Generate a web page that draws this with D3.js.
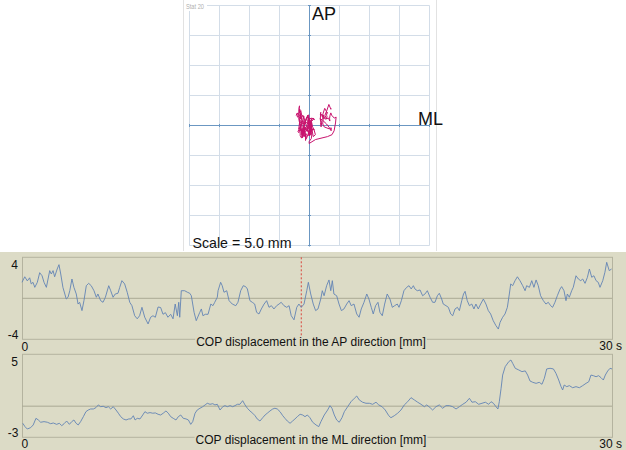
<!DOCTYPE html>
<html><head><meta charset="utf-8">
<script src="https://cdn.jsdelivr.net/npm/d3@7"></script>
<style>
html,body{margin:0;padding:0;background:#fff;}
svg{display:block;font-family:"Liberation Sans",Arial,sans-serif;}
</style></head>
<body>
<svg id="chart" width="626" height="450"></svg>
<script>
// ---- data (time in s, displacement in mm) ----
const apSeries = [[0,1.56],[0.14,2.1],[0.27,1.7],[0.39,2.0],[0.47,1.4],[0.56,1.56],[0.65,1.07],[0.78,1.56],[0.9,2.5],[1.02,2.2],[1.12,1.56],[1.24,1.07],[1.41,2.7],[1.49,2.37],[1.58,2.7],[1.66,2.1],[1.79,2.86],[1.88,3.28],[1.97,2.37],[2.08,1.07],[2.25,-0.07],[2.34,0.1],[2.43,0.74],[2.54,1.88],[2.64,1.07],[2.76,0.42],[2.85,-0.56],[2.93,-0.39],[3.05,-1.2],[3.15,-0.23],[3.27,1.23],[3.39,1.46],[3.52,1.23],[3.66,0.74],[3.78,0.1],[3.86,0.42],[4.0,-0.23],[4.12,-0.39],[4.24,0.1],[4.41,1.23],[4.51,0.74],[4.63,0.1],[4.74,0.42],[4.88,0.49],[4.97,1.07],[5.08,1.72],[5.22,1.4],[5.35,0.59],[5.48,-0.39],[5.59,-0.72],[5.73,-1.7],[5.86,-2.0],[5.98,-1.7],[6.1,-0.88],[6.24,-1.85],[6.41,-2.5],[6.54,-1.85],[6.66,-1.7],[6.78,-1.85],[6.92,-0.85],[7.05,-0.9],[7.17,-1.56],[7.29,-1.4],[7.42,-1.85],[7.56,-1.56],[7.68,-2.0],[7.79,-0.56],[7.9,-1.7],[7.97,-0.39],[8.02,-1.85],[8.1,0.74],[8.27,0.74],[8.41,0.59],[8.53,0.49],[8.61,0.25],[8.75,-1.37],[8.86,-2.18],[9.04,-1.37],[9.12,-1.04],[9.2,-1.7],[9.32,-1.56],[9.46,-1.56],[9.6,-0.56],[9.71,-0.72],[9.8,-0.39],[9.93,0.1],[9.97,0.74],[10.1,1.56],[10.18,1.23],[10.27,0.59],[10.41,0.74],[10.53,-0.23],[10.69,-0.56],[10.87,-0.72],[10.98,-0.39],[11.12,0.74],[11.25,1.23],[11.37,1.14],[11.46,0.91],[11.59,-0.23],[11.71,-0.39],[11.83,-0.56],[11.93,-1.37],[12.05,-1.53],[12.17,-1.04],[12.31,-0.56],[12.44,-0.23],[12.56,-0.88],[12.68,-0.72],[12.81,-1.04],[12.95,-0.72],[13.07,-0.56],[13.18,-0.39],[13.32,-0.72],[13.46,-0.88],[13.58,-0.72],[13.69,-1.7],[13.83,-2.1],[13.97,-0.88],[14.08,-0.56],[14.2,-0.88],[14.34,-0.56],[14.48,0.74],[14.56,1.56],[14.68,0.42],[14.81,-0.56],[14.93,-1.2],[15.05,-1.04],[15.19,-0.07],[15.27,0.74],[15.36,0.25],[15.49,1.23],[15.61,1.79],[15.7,0.74],[15.78,1.72],[15.86,0.42],[16.0,0.25],[16.12,-0.56],[16.24,-1.2],[16.37,-1.04],[16.51,-0.56],[16.63,-0.23],[16.74,-0.72],[16.88,-0.56],[17.02,-1.53],[17.14,-1.85],[17.25,-1.04],[17.39,-0.39],[17.53,0.42],[17.64,-0.07],[17.76,-0.88],[17.86,-1.53],[17.98,-0.72],[18.1,-0.39],[18.2,-1.37],[18.32,-1.7],[18.44,-0.56],[18.57,0.42],[18.71,-0.07],[18.83,-0.88],[18.95,-0.72],[19.08,-0.56],[19.17,-0.88],[19.29,-0.23],[19.42,0.74],[19.56,1.07],[19.68,1.23],[19.79,0.91],[19.9,1.23],[19.98,0.91],[20.1,0.74],[20.24,0.81],[20.37,0.25],[20.49,0.42],[20.61,0.74],[20.75,0.1],[20.88,-0.39],[21.0,-0.39],[21.12,0.25],[21.22,0.49],[21.34,-0.07],[21.42,-0.56],[21.56,-0.72],[21.68,-0.88],[21.8,-1.53],[21.9,-1.7],[22.02,-1.04],[22.14,-0.88],[22.24,-1.2],[22.36,-0.23],[22.45,0.42],[22.53,0.68],[22.64,-0.23],[22.75,-0.72],[22.87,-0.56],[22.98,-1.04],[23.08,-0.56],[23.2,-1.04],[23.32,-0.56],[23.46,-0.07],[23.59,-0.56],[23.71,-1.2],[23.83,-1.53],[23.96,-2.18],[24.1,-2.67],[24.22,-3.0],[24.31,-2.34],[24.44,-1.85],[24.56,-1.53],[24.68,-0.88],[24.78,0.42],[24.85,1.4],[24.95,1.23],[25.07,1.72],[25.19,2.1],[25.32,1.72],[25.46,1.23],[25.58,0.74],[25.66,1.23],[25.8,1.07],[25.92,1.72],[26.03,1.07],[26.14,1.79],[26.25,1.23],[26.37,0.25],[26.51,-0.23],[26.64,-0.56],[26.76,-0.39],[26.88,-0.72],[26.98,-0.88],[27.1,-0.39],[27.22,0.25],[27.36,0.91],[27.44,1.14],[27.56,0.74],[27.66,-0.23],[27.73,0.42],[27.83,0.1],[27.95,0.74],[28.03,1.07],[28.17,2.2],[28.29,1.88],[28.41,1.72],[28.51,1.88],[28.63,1.46],[28.75,2.05],[28.85,2.86],[28.97,2.05],[29.08,2.2],[29.19,1.72],[29.3,1.56],[29.39,1.07],[29.53,1.72],[29.64,2.54],[29.73,3.51],[29.86,2.7],[29.98,2.86]];

const mlSeries = [[0.04,-1.65],[0.15,-1.97],[0.27,-2.2],[0.44,-2.07],[0.57,-1.81],[0.71,-1.17],[0.83,-1.33],[0.95,-1.55],[1.12,-1.49],[1.29,-1.55],[1.46,-1.69],[1.59,-1.62],[1.76,-1.75],[1.9,-1.65],[2.02,-1.88],[2.14,-1.69],[2.27,-1.43],[2.41,-1.75],[2.53,-1.49],[2.64,-1.33],[2.75,-1.65],[2.86,-1.81],[2.98,-1.49],[3.12,-1.01],[3.25,-0.53],[3.37,-0.37],[3.49,-0.27],[3.63,-0.27],[3.76,-0.14],[3.88,0.12],[4.0,-0.05],[4.13,-0.01],[4.27,-0.14],[4.39,-0.05],[4.51,-0.27],[4.64,-0.05],[4.78,-0.37],[4.9,-0.68],[5.02,-1.01],[5.15,-1.23],[5.29,-1.33],[5.43,-1.23],[5.54,-1.23],[5.66,-0.92],[5.75,-1.33],[5.86,-1.17],[6.0,-1.23],[6.14,-0.85],[6.25,-0.53],[6.37,-0.68],[6.51,-0.62],[6.65,-0.68],[6.78,-0.65],[6.92,-0.78],[7.05,-0.85],[7.18,-0.68],[7.32,-0.46],[7.44,-0.68],[7.56,-1.01],[7.69,-1.17],[7.83,-1.33],[7.95,-1.01],[8.07,-0.85],[8.2,-1.17],[8.34,-1.23],[8.46,-1.33],[8.58,-1.75],[8.68,-1.49],[8.8,-0.68],[8.91,-0.37],[9.05,-0.2],[9.19,-0.05],[9.31,0.12],[9.42,0.28],[9.56,0.18],[9.7,0.24],[9.81,0.12],[9.93,0.18],[10.07,-0.37],[10.21,-0.05],[10.32,0.05],[10.44,-0.05],[10.58,0.05],[10.71,-0.05],[10.83,0.05],[10.95,0.18],[11.08,0.18],[11.22,0.53],[11.34,0.12],[11.46,-0.2],[11.59,-0.46],[11.73,-0.68],[11.85,-0.92],[11.96,-1.23],[12.1,-1.43],[12.24,-1.11],[12.36,-0.85],[12.47,-0.68],[12.61,-0.46],[12.75,-0.27],[12.86,-0.2],[12.98,-0.27],[13.12,-0.53],[13.26,-0.92],[13.37,-1.17],[13.49,-1.43],[13.63,-1.65],[13.76,-1.43],[13.88,-1.23],[14.0,-1.01],[14.14,-0.78],[14.27,-0.85],[14.39,-1.01],[14.51,-0.85],[14.64,-1.11],[14.78,-1.55],[14.95,-1.81],[15.09,-1.97],[15.2,-1.49],[15.37,-0.85],[15.54,-0.37],[15.66,0.05],[15.76,-0.2],[15.88,-0.85],[16.0,-1.33],[16.13,-1.55],[16.27,-1.11],[16.39,-0.53],[16.56,-0.05],[16.73,0.43],[16.9,0.76],[17.02,0.98],[17.15,0.6],[17.32,0.38],[17.49,0.28],[17.66,0.28],[17.83,0.18],[18.0,0.38],[18.14,0.12],[18.31,-0.05],[18.47,-0.37],[18.65,-0.92],[18.76,-1.11],[18.93,-0.92],[19.1,-0.68],[19.27,-0.37],[19.44,0.12],[19.61,0.43],[19.78,0.82],[19.95,0.6],[20.12,0.38],[20.29,0.18],[20.46,-0.05],[20.58,0.12],[20.75,-0.14],[20.88,-0.37],[21.05,-0.05],[21.22,0.12],[21.39,-0.2],[21.56,0.05],[21.73,0.05],[21.9,-0.05],[22.07,-0.27],[22.24,-0.05],[22.41,0.18],[22.58,0.38],[22.75,0.76],[22.88,0.38],[23.05,0.43],[23.22,0.18],[23.39,0.28],[23.56,0.38],[23.73,0.18],[23.85,0.43],[23.97,0.28],[24.1,-0.05],[24.2,-0.27],[24.27,0.43],[24.36,1.72],[24.44,3.0],[24.57,3.81],[24.75,4.29],[24.86,4.45],[24.95,4.13],[25.08,3.65],[25.26,3.49],[25.42,3.33],[25.59,3.4],[25.71,3.0],[25.83,2.43],[25.97,2.3],[26.14,2.2],[26.3,2.3],[26.44,2.11],[26.56,2.69],[26.68,3.59],[26.85,3.65],[27.02,3.59],[27.15,3.17],[27.29,2.52],[27.41,1.88],[27.49,1.56],[27.57,2.04],[27.7,1.88],[27.83,1.98],[28.0,1.78],[28.17,1.88],[28.34,1.78],[28.51,1.98],[28.68,2.2],[28.82,2.36],[28.93,3.0],[29.05,2.94],[29.19,2.84],[29.32,2.94],[29.44,2.75],[29.56,2.52],[29.66,3.0],[29.78,3.39],[29.9,3.65],[30.0,3.59]];

const timeDomain = [0, 30];
const timeTickLabels = ["0", "30 s"];
const apDomain = [-4, 4];
const mlDomain = [-3, 5];
const apTickLabels = ["4", "-4"];
const mlTickLabels = ["5", "-3"];
const panelTitles = ["COP displacement in the AP direction [mm]", "COP displacement in the ML direction [mm]"];
const cursorTime = 14.2;
const stabTitle = "Stat 20";
const stabAxisLabels = ["AP", "ML"];
const stabScaleMm = 5.0;
const stabGridCells = 8;

// ---- drawing ----
const svg = d3.select("#chart");
const FONT = "'Liberation Sans', Arial, sans-serif";
const AXIS_BLUE = "#6b97c2";

// ===== Statokinesiogram (top) =====
const half = stabScaleMm * stabGridCells / 2; // 20 mm
const sx = d3.scaleLinear().domain([-half, half]).range([189.5, 429.5]);
const sy = d3.scaleLinear().domain([-half, half]).range([245.5, 5.5]);
const stab = svg.append("g");

stab.append("line").attr("x1", 183.5).attr("x2", 183.5).attr("y1", 0).attr("y2", 251)
  .attr("stroke", "#e2e2e2");
stab.append("line").attr("x1", 436.5).attr("x2", 436.5).attr("y1", 0).attr("y2", 251)
  .attr("stroke", "#e2e2e2");

const gridVals = d3.range(-half, half + 0.001, stabScaleMm);
stab.selectAll("line.gv").data(gridVals).join("line").attr("class", "gv")
  .attr("x1", d => sx(d)).attr("x2", d => sx(d))
  .attr("y1", sy(half)).attr("y2", sy(-half))
  .attr("stroke", "#d3dde8").attr("stroke-width", 1);
stab.selectAll("line.gh").data(gridVals).join("line").attr("class", "gh")
  .attr("y1", d => sy(d)).attr("y2", d => sy(d))
  .attr("x1", sx(-half)).attr("x2", sx(half))
  .attr("stroke", "#d3dde8").attr("stroke-width", 1);

// axes
stab.append("line").attr("x1", sx(0)).attr("x2", sx(0)).attr("y1", sy(half)).attr("y2", sy(-half) + 1)
  .attr("stroke", AXIS_BLUE);
stab.append("line").attr("y1", sy(0)).attr("y2", sy(0)).attr("x1", sx(-half)).attr("x2", sx(half))
  .attr("stroke", AXIS_BLUE);
stab.selectAll("line.tx").data(gridVals).join("line").attr("class", "tx")
  .attr("x1", d => sx(d)).attr("x2", d => sx(d)).attr("y1", sy(0) - 1.5).attr("y2", sy(0) + 1.5)
  .attr("stroke", AXIS_BLUE);
stab.selectAll("line.ty").data(gridVals).join("line").attr("class", "ty")
  .attr("y1", d => sy(d)).attr("y2", d => sy(d)).attr("x1", sx(0) - 1.5).attr("x2", sx(0) + 1.5)
  .attr("stroke", AXIS_BLUE);

// title "Stat 20" with white backing
stab.append("rect").attr("x", 185).attr("y", 0).attr("width", 22).attr("height", 11).attr("fill", "#fff");
stab.append("text").attr("x", 186).attr("y", 9).text(stabTitle)
  .attr("font-size", 7.5).attr("fill", "#b0b0b0").attr("font-family", FONT)
  .attr("textLength", 18).attr("lengthAdjust", "spacingAndGlyphs");

stab.append("text").attr("x", 312).attr("y", 19.5).text(stabAxisLabels[0])
  .attr("font-size", 18).attr("fill", "#111").attr("font-family", FONT);
stab.append("text").attr("x", 418).attr("y", 124.5).text(stabAxisLabels[1])
  .attr("font-size", 18).attr("fill", "#111").attr("font-family", FONT);
stab.append("text").attr("x", 192.5).attr("y", 247.5).text("Scale = " + stabScaleMm.toFixed(1) + " mm")
  .attr("font-size", 14.2).attr("fill", "#111").attr("font-family", FONT);

// trajectory: ML on x, AP on y, at the AP sample times
const mlAt = (t) => {
  const i = d3.bisector(d => d[0]).left(mlSeries, t);
  if (i <= 0) return mlSeries[0][1];
  if (i >= mlSeries.length) return mlSeries[mlSeries.length - 1][1];
  const a = mlSeries[i - 1], b = mlSeries[i];
  return a[1] + (b[1] - a[1]) * (t - a[0]) / (b[0] - a[0]);
};
const traj = apSeries.map(d => [mlAt(d[0]), d[1]]);
stab.append("path").datum(traj)
  .attr("d", d3.line().x(d => sx(d[0])).y(d => sy(d[1])))
  .attr("fill", "none").attr("stroke", "#c8136e").attr("stroke-width", 1)
  .attr("stroke-linejoin", "round");

// ===== Time panels (bottom) =====
svg.append("rect").attr("x", 0).attr("y", 252).attr("width", 626).attr("height", 198).attr("fill", "#dcdbc6");

const x = d3.scaleLinear().domain(timeDomain).range([22, 612]);
const panels = [
  {data: apSeries, domain: apDomain, ticks: apTickLabels, title: panelTitles[0], y0: 257.3, y1: 339.3, cursor: true, zeroDy: 11.5},
  {data: mlSeries, domain: mlDomain, ticks: mlTickLabels, title: panelTitles[1], y0: 354.3, y1: 437.3, cursor: false, zeroDy: 10.2}
];

panels.forEach(p => {
  const y = d3.scaleLinear().domain(p.domain).range([p.y1, p.y0]);
  const g = svg.append("g");
  g.append("rect").attr("x", x(timeDomain[0]) + 0.5).attr("y", p.y0).attr("width", x(timeDomain[1]) - x(timeDomain[0]))
    .attr("height", p.y1 - p.y0).attr("fill", "none").attr("stroke", "#b4b39f").attr("stroke-width", 1);
  g.append("line").attr("x1", x(timeDomain[0])).attr("x2", x(timeDomain[1])).attr("y1", y(0)).attr("y2", y(0))
    .attr("stroke", "#aaa994").attr("stroke-width", 1);
  if (p.cursor) {
    g.append("line").attr("x1", x(cursorTime)).attr("x2", x(cursorTime)).attr("y1", p.y0).attr("y2", p.y1 - 4)
      .attr("stroke", "#d9463c").attr("stroke-width", 1).attr("stroke-dasharray", "2,2");
  }
  g.append("path").datum(p.data)
    .attr("d", d3.line().x(d => x(d[0])).y(d => y(d[1])))
    .attr("fill", "none").attr("stroke", "#6283b4").attr("stroke-width", 0.9);

  g.append("text").attr("x", 18).attr("y", p.y0 + 12).attr("text-anchor", "end").text(p.ticks[0])
    .attr("font-size", 12).attr("fill", "#111").attr("font-family", FONT);
  g.append("text").attr("x", 18.5).attr("y", p.y1 - 0.5).attr("text-anchor", "end").text(p.ticks[1])
    .attr("font-size", 12).attr("fill", "#111").attr("font-family", FONT);
  g.append("text").attr("x", x(timeDomain[0]) - 0.5).attr("y", p.y1 + p.zeroDy).text(timeTickLabels[0])
    .attr("font-size", 12).attr("fill", "#111").attr("font-family", FONT);
  g.append("text").attr("x", 622).attr("y", p.y1 + 10.2).attr("text-anchor", "end").text(timeTickLabels[1])
    .attr("font-size", 12).attr("fill", "#111").attr("font-family", FONT);
  const t = g.append("text").attr("x", 311).attr("y", p.y1 + 6.5).attr("text-anchor", "middle").text(p.title)
    .attr("font-size", 12).attr("fill", "#111").attr("font-family", FONT);
  const bb = t.node().getBBox();
  g.insert("rect", "text").attr("x", bb.x - 1).attr("y", p.y1 - 1).attr("width", bb.width + 2).attr("height", 3)
    .attr("fill", "#dcdbc6");
});
</script>
</body></html>
